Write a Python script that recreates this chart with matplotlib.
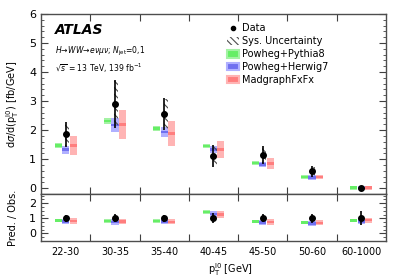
import numpy as np
import matplotlib
matplotlib.use("Agg")
import matplotlib.pyplot as plt
from matplotlib.patches import Rectangle, Patch
from matplotlib.lines import Line2D
from matplotlib.ticker import MultipleLocator, FixedLocator

plt.rcParams["hatch.color"] = "0.3"
plt.rcParams["hatch.linewidth"] = 0.8

bins = ["22-30", "30-35", "35-40", "40-45", "45-50", "50-60", "60-1000"]

data = [1.85, 2.90, 2.55, 1.10, 1.15, 0.58, 0.01]
data_err = [0.42, 0.82, 0.55, 0.38, 0.30, 0.18, 0.02]
data_sys = [0.38, 0.78, 0.52, 0.35, 0.27, 0.15, 0.015]

pythia = [1.48, 2.31, 2.06, 1.45, 0.87, 0.39, 0.015]
pythia_err = [0.08, 0.10, 0.09, 0.07, 0.07, 0.07, 0.07]
herwig = [1.33, 2.17, 1.94, 1.34, 0.82, 0.36, 0.012]
herwig_err = [0.14, 0.25, 0.18, 0.13, 0.10, 0.08, 0.07]
madgraph = [1.48, 2.20, 1.89, 1.34, 0.85, 0.39, 0.015]
madgraph_err = [0.33, 0.49, 0.42, 0.29, 0.20, 0.08, 0.07]

ratio_data_err = [0.24, 0.26, 0.22, 0.34, 0.26, 0.30, 0.45]
ratio_pythia = [0.86, 0.82, 0.83, 1.40, 0.78, 0.72, 0.85]
ratio_herwig = [0.78, 0.77, 0.78, 1.27, 0.72, 0.66, 0.80]
ratio_madgraph = [0.82, 0.78, 0.77, 1.25, 0.76, 0.70, 0.88]
ratio_pythia_err = [0.12, 0.12, 0.12, 0.12, 0.12, 0.12, 0.12]
ratio_herwig_err = [0.18, 0.18, 0.17, 0.20, 0.17, 0.17, 0.17]
ratio_madgraph_err = [0.17, 0.17, 0.17, 0.22, 0.17, 0.17, 0.17]

models = [
    ("Powheg+Pythia8", -0.15, "#a4f2a4", "#66ee66"),
    ("Powheg+Herwig7", 0.0, "#b0b0ff", "#7070f0"),
    ("MadgraphFxFx", 0.15, "#ffb4b4", "#ff7e7e"),
]
top_vals = [(pythia, pythia_err), (herwig, herwig_err), (madgraph, madgraph_err)]
rat_vals = [(ratio_pythia, ratio_pythia_err), (ratio_herwig, ratio_herwig_err),
            (ratio_madgraph, ratio_madgraph_err)]

x = np.arange(len(bins)) + 0.5
bw = 0.145

fig = plt.figure(figsize=(4.07, 2.78), dpi=100)
ax = fig.add_axes([0.101, 0.302, 0.847, 0.648])
axr = fig.add_axes([0.101, 0.133, 0.847, 0.169])


def draw_models(a, vals, cw):
    for (name, off, light, dark), (v, e) in zip(models, vals):
        for xi, vi, ei in zip(x, v, e):
            a.add_patch(Rectangle((xi + off - bw / 2, vi - ei), bw, 2 * ei,
                                  fc=light, ec="none", zorder=2))
            a.add_patch(Rectangle((xi + off - bw / 2, vi - cw), bw, 2 * cw,
                                  fc=dark, ec="none", zorder=3))


draw_models(ax, top_vals, 0.045)
for xi, vi, si in zip(x, data, data_sys):
    ax.add_patch(Rectangle((xi - 0.01, vi - si), 0.08, 2 * si, fc="none",
                           ec="0.3", hatch="\\\\\\\\\\", lw=0, zorder=4))
ax.errorbar(x, data, yerr=data_err, fmt="o", color="black", ms=4,
            elinewidth=1.2, capsize=0, zorder=5)

draw_models(axr, rat_vals, 0.08)
axr.errorbar(x, np.ones(len(x)), yerr=ratio_data_err, fmt="o", color="black",
             ms=4, elinewidth=1.2, capsize=0, zorder=5)

for a in (ax, axr):
    a.set_xlim(0, len(bins))
    a.xaxis.set_major_locator(FixedLocator(np.arange(1, len(bins))))
    a.tick_params(axis="both", which="both", direction="in", top=True,
                  right=True, labelsize=8, color="0.25")
    a.tick_params(axis="x", which="major", length=5)
    a.tick_params(axis="y", which="major", length=5)
    a.tick_params(axis="y", which="minor", length=2.5)
    for s in a.spines.values():
        s.set_color("0.3")
        s.set_linewidth(1.0)

ax.set_ylim(-0.2, 6)
ax.yaxis.set_major_locator(MultipleLocator(1))
ax.yaxis.set_minor_locator(MultipleLocator(0.2))
ax.set_xticklabels([])
ax.set_ylabel(r"d$\sigma$/d(p$_{\mathrm{T}}^{\mathrm{l0}}$) [fb/GeV]",
              fontsize=7, labelpad=6)

axr.set_ylim(-0.5, 2.6)
axr.yaxis.set_major_locator(MultipleLocator(1))
axr.yaxis.set_minor_locator(MultipleLocator(0.25))
axr.set_xticklabels([])
axr.xaxis.set_minor_locator(FixedLocator(x))
axr.tick_params(axis="x", which="minor", length=0, labelsize=7, pad=4)
axr.set_xticklabels(bins, minor=True, fontsize=7)
axr.set_ylabel("Pred. / Obs.", fontsize=7, labelpad=8)
axr.set_xlabel(r"p$_{\mathrm{T}}^{\mathrm{l0}}$ [GeV]", fontsize=7)
axr.xaxis.set_label_coords(0.55, -0.42)

ax.text(0.04, 0.91, "ATLAS", transform=ax.transAxes, fontsize=10,
        fontweight="bold", fontstyle="italic", va="center")
ax.text(0.04, 0.79,
        r"$H\!\rightarrow\!WW\!\rightarrow\!e\nu\mu\nu$; $N_{\mathrm{jet}}$=0,1",
        transform=ax.transAxes, fontsize=5.5, va="center")
ax.text(0.04, 0.70, r"$\sqrt{s}$ = 13 TeV, 139 fb$^{-1}$",
        transform=ax.transAxes, fontsize=5.5, va="center")

handles = [
    Line2D([], [], marker="o", color="black", ls="none", ms=3),
    Patch(fc="none", ec="0.3", lw=0, hatch="\\\\\\\\\\"),
]
for name, off, light, dark in models:
    handles.append(Patch(fc=dark, ec=light, lw=1.5))
labels = ["Data", "Sys. Uncertainty"] + [m[0] for m in models]
ax.legend(handles, labels, loc="upper left", bbox_to_anchor=(0.52, 0.985),
          frameon=False, fontsize=7, handlelength=1.2, handleheight=0.8,
          handletextpad=0.3, labelspacing=0.3, borderaxespad=0.3)

fig.savefig("out.png", dpi=100)
